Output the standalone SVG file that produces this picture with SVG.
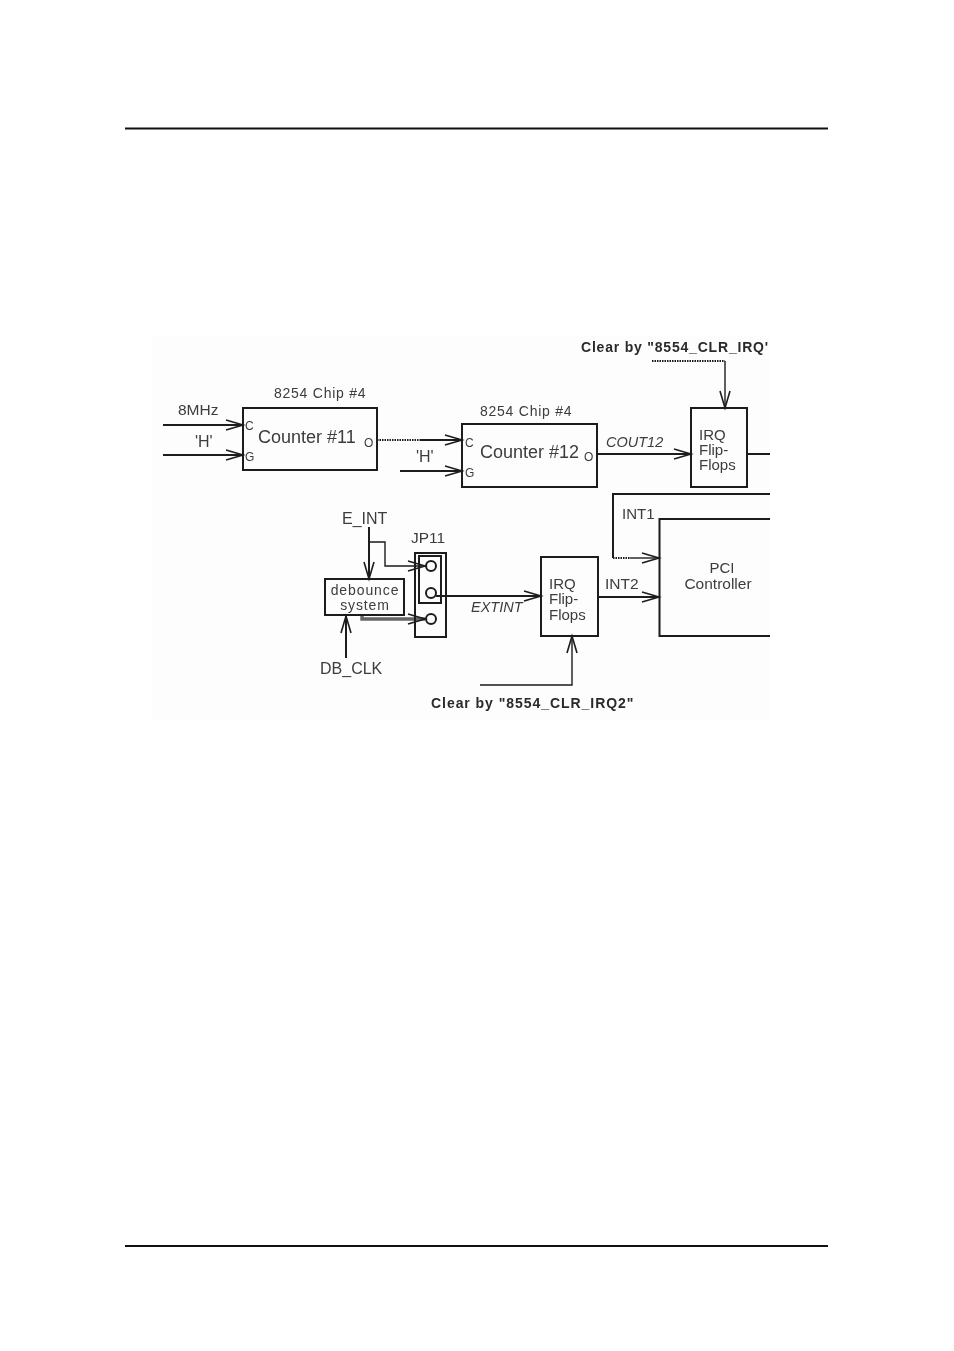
<svg xmlns="http://www.w3.org/2000/svg" width="954" height="1351" viewBox="0 0 954 1351">
<style>
text{font-family:"Liberation Sans",Arial,sans-serif;fill:#3c3c3c;font-size:15px}
.s{font-size:12px}.chip{font-size:14px;letter-spacing:.75px}.m{font-size:18px}.c{text-anchor:middle}.b{font-weight:bold;font-size:14px;fill:#2a2a2a}.i{font-style:italic;font-size:14.500px}.d{font-size:14px;letter-spacing:.9px}
.box{fill:none;stroke:#1c1c1c;stroke-width:2}
.w{fill:none;stroke:#1c1c1c;stroke-width:2}
.t{fill:none;stroke:#1c1c1c;stroke-width:1.400}
.dot{fill:none;stroke:#1c1c1c;stroke-width:2;stroke-dasharray:1.500 1}
</style>
<defs>
<marker id="a" markerUnits="userSpaceOnUse" markerWidth="24" markerHeight="16" refX="19" refY="8" orient="auto">
<path d="M2 3L19 8L2 13" fill="none" stroke="#1c1c1c" stroke-width="1.600"/>
</marker>
<filter id="soft" x="-2%" y="-2%" width="104%" height="104%"><feGaussianBlur stdDeviation="0.45"/></filter>
</defs>
<rect width="954" height="1351" fill="#fff"/>
<rect x="152" y="335" width="618" height="386" fill="#fdfdfd"/>
<path d="M125 128.500H828M125 1246H828" stroke="#111" stroke-width="2" fill="none"/>
<g filter="url(#soft)">
<g id="connectors">
<path class="w" d="M163 425H243" marker-end="url(#a)"/>
<path class="w" d="M163 455H243" marker-end="url(#a)"/>
<path class="dot" d="M377 440H420"/><path class="w" d="M420 440H462" marker-end="url(#a)"/>
<path class="w" d="M400 471H462" marker-end="url(#a)"/>
<path class="w" d="M597 454H691" marker-end="url(#a)"/>
<path class="dot" d="M652 361H725"/><path class="t" d="M725 361V408" marker-end="url(#a)"/>
<path class="w" d="M747 454H770"/>
<path class="w" d="M770 494H613V558"/><path class="dot" d="M613 558H630"/><path class="t" d="M630 558H659" marker-end="url(#a)"/>
<path class="w" d="M598 597H659" marker-end="url(#a)"/>
<path class="t" d="M480 685H572V636" marker-end="url(#a)"/>
<path class="w" d="M369 527V579" marker-end="url(#a)"/>
<path class="t" d="M369 542H385V566H425" marker-end="url(#a)"/>
<path class="w" d="M436 596H541" marker-end="url(#a)"/>
<path d="M362 616V619H425" fill="none" stroke="#666" stroke-width="3.400" marker-end="url(#a)"/>
<path class="w" d="M346 658V616" marker-end="url(#a)"/>
</g>
<g id="counter11"><rect class="box" x="243" y="408" width="134" height="62"/>
<text x="274" y="398" class="chip">8254 Chip #4</text>
<text x="245" y="430" class="s">C</text><text x="245" y="461" class="s">G</text><text x="364" y="447" class="s">O</text>
<text x="258" y="443" class="m">Counter #11</text></g>
<g id="counter12"><rect class="box" x="462" y="424" width="135" height="63"/>
<text x="480" y="416" class="chip">8254 Chip #4</text>
<text x="465" y="447" class="s">C</text><text x="465" y="477" class="s">G</text><text x="584" y="461" class="s">O</text>
<text x="480" y="458" class="m">Counter #12</text></g>
<g id="irq1"><rect class="box" x="691" y="408" width="56" height="79"/>
<text x="699" y="440">IRQ</text><text x="699" y="455">Flip-</text><text x="699" y="470">Flops</text></g>
<g id="pci"><path class="box" d="M770 519H659.500V636H770"/>
<text x="722" y="573" class="c">PCI</text><text x="718" y="589" class="c" style="font-size:15.500px">Controller</text></g>
<g id="irq2"><rect class="box" x="541" y="557" width="57" height="79"/>
<text x="549" y="589">IRQ</text><text x="549" y="604">Flip-</text><text x="549" y="620">Flops</text></g>
<g id="debounce"><rect class="box" x="325" y="579" width="79" height="36"/>
<text x="365" y="595" class="c d">debounce</text><text x="365" y="610" class="c d">system</text></g>
<g id="jp11"><rect class="box" x="415" y="553" width="31" height="84"/>
<rect class="box" x="419" y="556" width="22" height="47"/>
<circle class="box" cx="431" cy="566" r="5"/><circle class="box" cx="431" cy="593" r="5"/><circle class="box" cx="431" cy="619" r="5"/>
<text x="411" y="543" style="font-size:15.500px">JP11</text></g>
<g id="labels">
<text x="178" y="415" style="font-size:15.500px">8MHz</text>
<text x="195" y="447" style="font-size:16px">'H'</text>
<text x="416" y="462" style="font-size:16px">'H'</text>
<text x="606" y="447" class="i">COUT12</text>
<text x="581" y="352" class="b" style="letter-spacing:.8px">Clear by "8554_CLR_IRQ'</text>
<text x="342" y="524" style="font-size:16px">E_INT</text>
<text x="320" y="674" style="font-size:16px">DB_CLK</text>
<text x="471" y="612" class="i">EXTINT</text>
<text x="622" y="519">INT1</text>
<text x="605" y="589" style="font-size:15.500px">INT2</text>
<text x="431" y="708" class="b" style="letter-spacing:.95px">Clear by "8554_CLR_IRQ2"</text>
</g>
</g>
</svg>
